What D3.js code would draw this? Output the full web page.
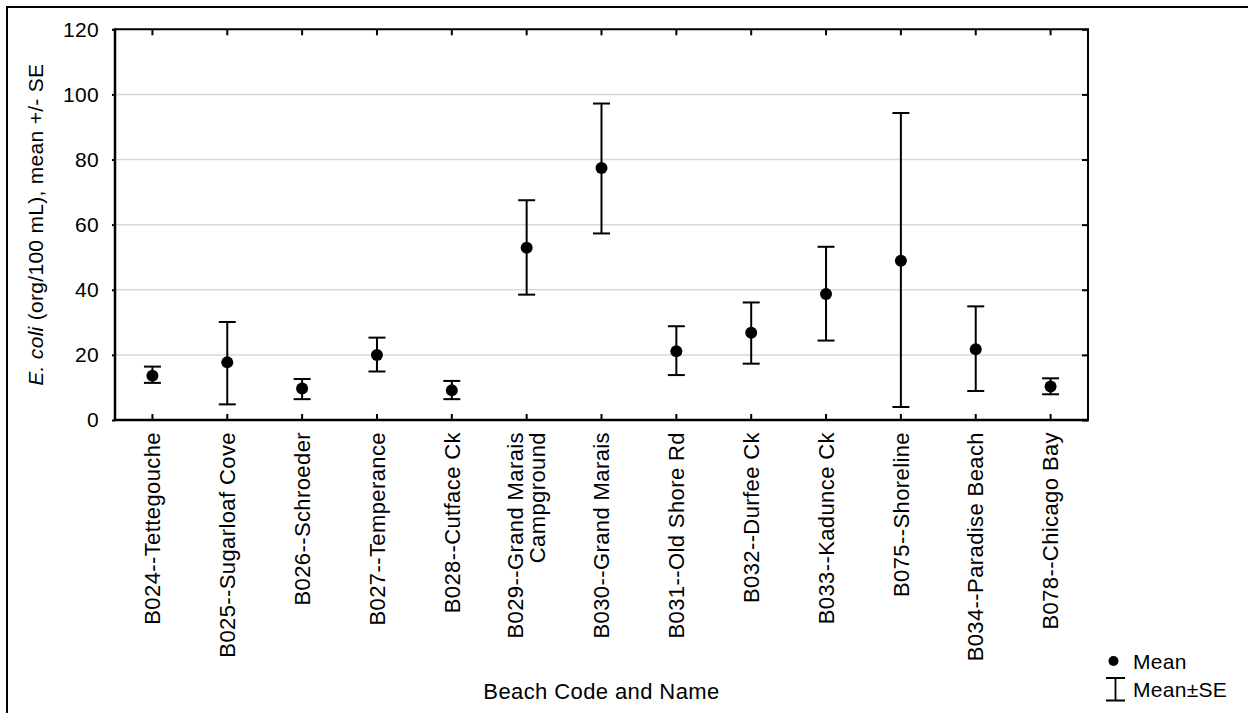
<!DOCTYPE html>
<html>
<head>
<meta charset="utf-8">
<script src="https://cdn.jsdelivr.net/npm/d3@7"></script>
<style>
    body { margin: 0; background: white; }
    svg { display: block; font-family: "Liberation Sans", Arial, sans-serif; }
</style>
</head>
<body>
<script>
// beach labels, "\n" splits into two lines
const beaches = [
    "B024--Tettegouche", "B025--Sugarloaf Cove", "B026--Schroeder", "B027--Temperance",
    "B028--Cutface Ck", "B029--Grand Marais\nCampground", "B030--Grand Marais", "B031--Old Shore Rd",
    "B032--Durfee Ck", "B033--Kadunce Ck", "B075--Shoreline", "B034--Paradise Beach", "B078--Chicago Bay"
];
const means = [13.6, 17.7, 9.7, 20.0, 9.1, 52.9, 77.4, 21.1, 26.8, 38.7, 48.9, 21.7, 10.3];
const upperSE = [16.4, 30.1, 12.6, 25.3, 12.0, 67.5, 97.2, 28.8, 36.1, 53.2, 94.3, 34.9, 12.8];
const lowerSE = [11.4, 4.8, 6.4, 14.9, 6.4, 38.5, 57.3, 13.8, 17.3, 24.4, 4.0, 8.9, 7.9];
const yTicks = [0, 20, 40, 60, 80, 100, 120];

class BeachChart {
    constructor(width, height) {
        this.width = width;
        this.height = height;
        this.margin = { left: 115, right: 160, top: 29.3, bottom: 293 };
        this.svg = d3.select("body").append("svg")
            .attr("width", width).attr("height", height);
        this.x = d3.scaleBand().domain(beaches).range([this.margin.left, width - this.margin.right]).padding(0);
        this.y = d3.scaleLinear().domain([0, 120]).range([height - this.margin.bottom, this.margin.top]);
    }

    drawFrame() {
        // outer border, only top and left show in the picture
        this.svg.append("path")
            .attr("d", `M7,${this.height} V7 H${this.width}`)
            .attr("fill", "none").attr("stroke", "black").attr("stroke-width", 2);
    }

    drawAxes() {
        const x = this.x, y = this.y;
        const [x0, x1] = x.range();
        const [y0, y1] = y.range();

        // gridlines
        this.svg.append("g").selectAll("line")
            .data(yTicks.filter(d => d > 0 && d < 120))
            .enter().append("line")
            .attr("x1", x0).attr("x2", x1)
            .attr("y1", d => y(d)).attr("y2", d => y(d))
            .attr("stroke", "#d9d9d9").attr("stroke-width", 1.5);

        // left axis, labels and small outer ticks
        const left = this.svg.append("g").attr("transform", `translate(${x0},0)`)
            .call(d3.axisLeft(y).tickValues(yTicks).tickSize(3).tickPadding(13));
        left.select(".domain").remove();
        left.selectAll("line").attr("stroke", "black").attr("stroke-width", 2);
        left.selectAll("text").attr("font-size", 21).attr("font-family", "Liberation Sans, Arial")
            .attr("letter-spacing", 0.3).attr("fill", "black");

        // right ticks pointing in
        this.svg.append("g").attr("transform", `translate(${x1},0)`)
            .call(d3.axisRight(y).tickValues(yTicks).tickSize(-6).tickFormat(""))
            .call(g => g.select(".domain").remove())
            .selectAll("line").attr("stroke", "black").attr("stroke-width", 2);

        // top ticks pointing down
        this.svg.append("g").attr("transform", `translate(0,${y1})`)
            .call(d3.axisTop(x).tickSize(-6).tickFormat(""))
            .call(g => g.select(".domain").remove())
            .selectAll("line").attr("stroke", "black").attr("stroke-width", 2);

        // bottom ticks pointing up
        this.svg.append("g").attr("transform", `translate(0,${y0})`)
            .call(d3.axisBottom(x).tickSize(-6).tickFormat(""))
            .call(g => g.select(".domain").remove())
            .selectAll("line").attr("stroke", "black").attr("stroke-width", 2);

        // plot box
        this.svg.append("path").attr("d", `M${x0},${y1} H${x1} V${y0}`)
            .attr("fill", "none").attr("stroke", "black").attr("stroke-width", 2);
        this.svg.append("path").attr("d", `M${x0},${y1 - 1} V${y0} H${x1 + 1}`)
            .attr("fill", "none").attr("stroke", "black").attr("stroke-width", 2.5);

        // category labels, rotated
        const labels = this.svg.append("g").selectAll("text")
            .data(beaches)
            .enter().append("text")
            .attr("transform", d => `translate(${x(d) + x.bandwidth() / 2},${y0 + 12}) rotate(-90)`)
            .attr("text-anchor", "end")
            .attr("font-size", 22)
            .attr("letter-spacing", 0.4)
            .attr("fill", "black");
        labels.each(function (d) {
            const lines = d.split("\n");
            const lh = 22;
            lines.forEach((t, i) => {
                d3.select(this).append("tspan")
                    .attr("x", 0)
                    .attr("y", (i - (lines.length - 1) / 2) * lh)
                    .attr("dy", "0.35em")
                    .text(t);
            });
        });

        // axis titles
        this.svg.append("text")
            .attr("x", (x0 + x1) / 2).attr("y", 699)
            .attr("text-anchor", "middle").attr("font-size", 22).attr("letter-spacing", 0.4)
            .text("Beach Code and Name");

        const yt = this.svg.append("text")
            .attr("transform", `translate(43,${(y0 + y1) / 2}) rotate(-90)`)
            .attr("text-anchor", "middle").attr("font-size", 21).attr("letter-spacing", 0.3);
        yt.append("tspan").attr("font-style", "italic").text("E. coli");
        yt.append("tspan").text(" (org/100 mL), mean +/- SE");
    }

    drawPoints() {
        const x = this.x, y = this.y;
        const cx = i => x(beaches[i]) + x.bandwidth() / 2;
        const cap = 8.5;
        const idx = d3.range(beaches.length);

        const g = this.svg.append("g").attr("stroke", "black").attr("stroke-width", 2);
        g.selectAll("line.bar").data(idx).enter().append("line")
            .attr("x1", cx).attr("x2", cx)
            .attr("y1", i => y(upperSE[i])).attr("y2", i => y(lowerSE[i]));
        g.selectAll("line.top").data(idx).enter().append("line")
            .attr("x1", i => cx(i) - cap).attr("x2", i => cx(i) + cap)
            .attr("y1", i => y(upperSE[i])).attr("y2", i => y(upperSE[i]));
        g.selectAll("line.bot").data(idx).enter().append("line")
            .attr("x1", i => cx(i) - cap).attr("x2", i => cx(i) + cap)
            .attr("y1", i => y(lowerSE[i])).attr("y2", i => y(lowerSE[i]));

        this.svg.append("g").selectAll("circle").data(idx).enter().append("circle")
            .attr("cx", cx).attr("cy", i => y(means[i])).attr("r", 6).attr("fill", "black");
    }

    drawLegend() {
        const lg = this.svg.append("g");
        lg.append("circle").attr("cx", 1113.5).attr("cy", 661).attr("r", 5).attr("fill", "black");
        lg.append("text").attr("x", 1133).attr("y", 669).attr("font-size", 21).attr("letter-spacing", 0.3).text("Mean");
        lg.append("path")
            .attr("d", "M1106,678 H1125 M1115.5,678 V700.5 M1106,700.5 H1125")
            .attr("fill", "none").attr("stroke", "black").attr("stroke-width", 1.8);
        lg.append("text").attr("x", 1133).attr("y", 697).attr("font-size", 21).attr("letter-spacing", 0.3).text("Mean\u00B1SE");
    }
}

const chart = new BeachChart(1248, 713);
chart.drawFrame();
chart.drawAxes();
chart.drawPoints();
chart.drawLegend();
</script>
</body>
</html>
